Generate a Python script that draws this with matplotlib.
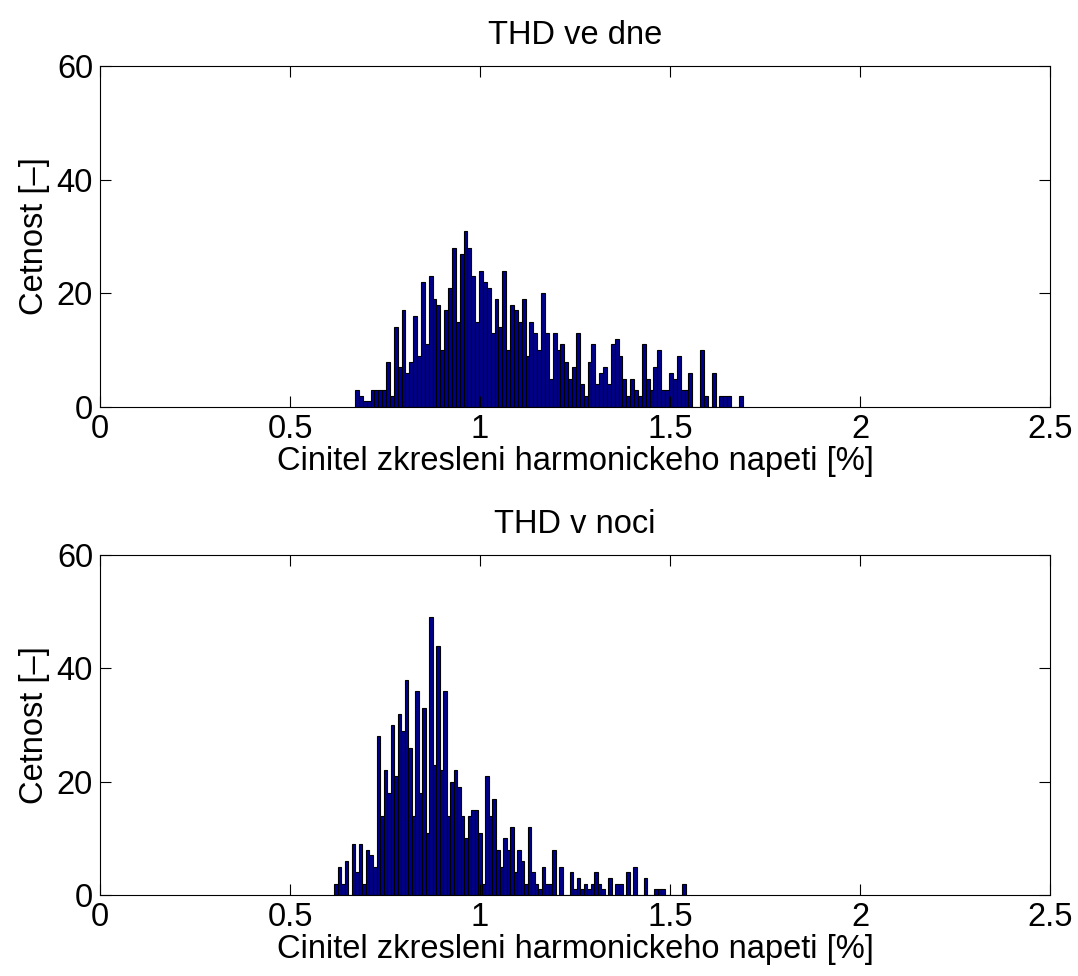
import numpy as np
import matplotlib
matplotlib.use('Agg')
import matplotlib.pyplot as plt

plt.rcParams['font.family'] = ['Liberation Sans', 'DejaVu Sans']

# Cetnosti (100 trid) - den
den_rozsah = (0.671, 1.691)
den_cetnost = [3, 2, 1, 1, 3, 3, 3, 3, 8, 2, 14, 7, 17, 6, 8, 16, 9, 22, 11, 23,
               19, 18, 10, 17, 21, 28, 15, 27, 31, 28, 23, 15, 24, 22, 21, 13, 19, 14, 24, 10,
               18, 17, 15, 19, 9, 15, 13, 10, 20, 13, 5, 13, 10, 11, 8, 5, 7, 13, 4, 2,
               8, 11, 4, 6, 7, 4, 11, 12, 9, 5, 2, 5, 3, 2, 11, 5, 3, 7, 10, 3,
               3, 6, 5, 9, 3, 3, 6, 0, 0, 10, 2, 0, 6, 0, 2, 2, 2, 0, 0, 2]

# Cetnosti (100 trid) - noc
noc_rozsah = (0.6166, 1.5413)
noc_cetnost = [2, 5, 2, 6, 0, 9, 4, 9, 2, 8, 7, 5, 28, 14, 22, 18, 30, 21, 32, 29,
               38, 26, 14, 36, 18, 33, 11, 49, 23, 44, 22, 36, 14, 20, 22, 19, 14, 10, 14, 15,
               15, 11, 2, 21, 14, 17, 8, 5, 10, 8, 12, 4, 8, 6, 2, 12, 4, 2, 1, 5,
               2, 2, 8, 0, 5, 0, 0, 4, 1, 3, 1, 2, 1, 2, 4, 2, 1, 0, 3, 0,
               2, 2, 0, 4, 0, 5, 0, 0, 3, 0, 0, 1, 1, 1, 0, 0, 0, 0, 0, 2]

xticks = [0, 0.5, 1, 1.5, 2, 2.5]
yticks = [0, 20, 40, 60]
xlabel = 'Cinitel zkresleni harmonickeho napeti [%]'
ylabel = 'Cetnost [–]'

fig = plt.figure(figsize=(10.78, 9.76), dpi=100)
ax1 = fig.add_axes([0.0928, 0.583, 0.8813, 0.3494])
ax2 = fig.add_axes([0.0928, 0.083, 0.8813, 0.3484])

fs = 23.5
for ax, rozsah, cetnost, titulek in [(ax1, den_rozsah, den_cetnost, 'THD ve dne'),
                                     (ax2, noc_rozsah, noc_cetnost, 'THD v noci')]:
    hrany = np.linspace(rozsah[0], rozsah[1], len(cetnost) + 1)
    ax.bar(hrany[:-1], cetnost, width=np.diff(hrany), align='edge',
           color='#00008f', edgecolor='black', linewidth=0.8)
    ax.set_xlim(0, 2.5)
    ax.set_ylim(0, 60)
    ax.set_xticks(xticks)
    ax.set_xticklabels(['0', '0.5', '1', '1.5', '2', '2.5'])
    ax.set_yticks(yticks)
    ax.tick_params(direction='in', top=True, right=True, length=8, width=0.8,
                   labelsize=fs, pad=5)
    for s in ax.spines.values():
        s.set_linewidth(0.8)
    ax.set_title(titulek, fontsize=fs, pad=16)
    ax.set_xlabel(xlabel, fontsize=fs, labelpad=1)
    ax.set_ylabel(ylabel, fontsize=fs, labelpad=5)

fig.savefig('out.png', dpi=100)
